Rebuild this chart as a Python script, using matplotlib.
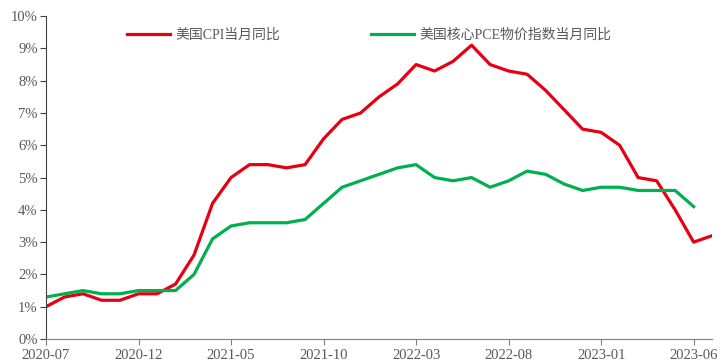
import numpy as np
import matplotlib.pyplot as plt
from matplotlib.ticker import FuncFormatter

plt.rcParams['font.family'] = ['Liberation Serif', 'Noto Sans CJK SC']

# monthly data, 2020-07 .. 2023-07
months = ['2020-07', '2020-08', '2020-09', '2020-10', '2020-11', '2020-12',
          '2021-01', '2021-02', '2021-03', '2021-04', '2021-05', '2021-06',
          '2021-07', '2021-08', '2021-09', '2021-10', '2021-11', '2021-12',
          '2022-01', '2022-02', '2022-03', '2022-04', '2022-05', '2022-06',
          '2022-07', '2022-08', '2022-09', '2022-10', '2022-11', '2022-12',
          '2023-01', '2023-02', '2023-03', '2023-04', '2023-05', '2023-06',
          '2023-07']
cpi = [1.0, 1.3, 1.4, 1.2, 1.2, 1.4, 1.4, 1.7, 2.6, 4.2, 5.0, 5.4,
       5.4, 5.3, 5.4, 6.2, 6.8, 7.0, 7.5, 7.9, 8.5, 8.3, 8.6, 9.1,
       8.5, 8.3, 8.2, 7.7, 7.1, 6.5, 6.4, 6.0, 5.0, 4.9, 4.0, 3.0, 3.2]
core_pce = [1.3, 1.4, 1.5, 1.4, 1.4, 1.5, 1.5, 1.5, 2.0, 3.1, 3.5, 3.6,
            3.6, 3.6, 3.7, 4.2, 4.7, 4.9, 5.1, 5.3, 5.4, 5.0, 4.9, 5.0,
            4.7, 4.9, 5.2, 5.1, 4.8, 4.6, 4.7, 4.7, 4.6, 4.6, 4.6, 4.1]
tick_labels = ['2020-07', '2020-12', '2021-05', '2021-10',
               '2022-03', '2022-08', '2023-01', '2023-06']

red = '#E60012'
green = '#00B050'
grey = '#595959'

fig = plt.figure(figsize=(7.23, 3.64), dpi=100)
ax = fig.add_axes([0.0636, 0.0687, 0.9214, 0.887])

x_cpi = np.arange(len(cpi))
x_pce = np.arange(len(core_pce))
ax.plot(x_cpi, cpi, color=red, lw=2.3, label='美国CPI当月同比')
ax.plot(x_pce, core_pce, color=green, lw=2.3, label='美国核心PCE物价指数当月同比')

ax.set_xlim(0, len(months) - 1)
ax.set_ylim(0, 10)
ax.set_yticks(range(0, 11))
ax.yaxis.set_major_formatter(FuncFormatter(lambda v, p: f'{int(v)}%'))
ticks = [months.index(t) for t in tick_labels]
ax.set_xticks(ticks)
ax.set_xticklabels(tick_labels)

for s in ['top', 'right']:
    ax.spines[s].set_visible(False)
ax.spines['left'].set_color('#404040')
ax.spines['bottom'].set_color('#808080')
ax.tick_params(axis='y', direction='out', length=4, color='#404040',
               labelsize=10.5, labelcolor=grey, pad=2)
ax.tick_params(axis='x', direction='out', length=4, color='#808080',
               labelsize=10.5, labelcolor=grey, pad=3)

leg = ax.legend(loc='upper center', bbox_to_anchor=(0.485, 1.0), ncol=2,
                frameon=False, fontsize=10, handlelength=3.1,
                columnspacing=6.5, handletextpad=0.4)
for t in leg.get_texts():
    t.set_color(grey)

fig.savefig('out.png', dpi=100)
